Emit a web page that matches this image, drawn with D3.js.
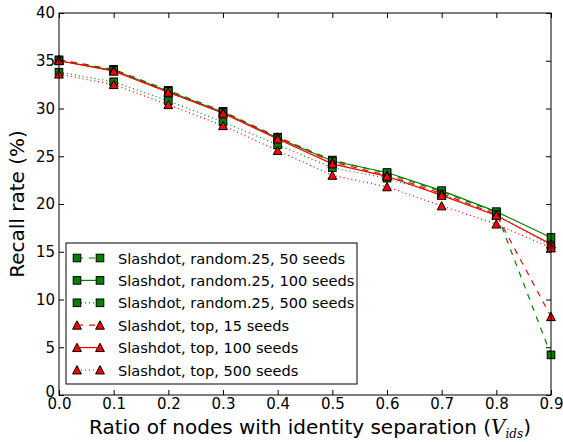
<!DOCTYPE html>
<html>
<head>
<meta charset="utf-8">
<script src="https://cdn.jsdelivr.net/npm/d3@7"></script>
<style>
  html, body { margin: 0; padding: 0; background: #fff; }
  svg text { font-family: "DejaVu Sans", sans-serif; fill: #000; }
</style>
</head>
<body>
<svg id="chart" width="563" height="442"></svg>
<script>
// Ratio of nodes with identity separation
const ratios = [0.0, 0.1, 0.2, 0.3, 0.4, 0.5, 0.6, 0.7, 0.8, 0.9];

// Recall rate (%) per seeding strategy
const random25_50  = [35.1, 34.1, 31.9, 29.7, 27.0, 24.6, 23.2, 21.3, 19.1, 4.2];
const random25_100 = [35.0, 34.0, 31.8, 29.6, 26.9, 24.5, 23.3, 21.4, 19.2, 16.5];
const random25_500 = [33.8, 32.8, 30.8, 28.6, 26.2, 23.8, 22.7, 21.0, 18.9, 15.6];
const top_15       = [35.1, 34.0, 31.7, 29.6, 27.0, 24.4, 23.0, 21.1, 18.9, 8.2];
const top_100      = [35.0, 33.9, 31.7, 29.5, 26.8, 24.2, 22.9, 20.9, 18.8, 15.8];
const top_500      = [33.6, 32.5, 30.4, 28.2, 25.6, 23.0, 21.8, 19.8, 17.9, 15.4];

const seriesLabels = [
  "Slashdot, random.25, 50 seeds",
  "Slashdot, random.25, 100 seeds",
  "Slashdot, random.25, 500 seeds",
  "Slashdot, top, 15 seeds",
  "Slashdot, top, 100 seeds",
  "Slashdot, top, 500 seeds"
];

const xTicks = [0.0, 0.1, 0.2, 0.3, 0.4, 0.5, 0.6, 0.7, 0.8, 0.9];
const yTicks = [0, 5, 10, 15, 20, 25, 30, 35, 40];

const styles = [
  { color: "#008000", dash: "6,6", marker: "square" },
  { color: "#008000", dash: null,  marker: "square" },
  { color: "#008000", dash: "1,3", marker: "square" },
  { color: "#ff0000", dash: "6,6", marker: "triangle" },
  { color: "#ff0000", dash: null,  marker: "triangle" },
  { color: "#ff0000", dash: "1,3", marker: "triangle" }
];
const seriesValues = [random25_50, random25_100, random25_500, top_15, top_100, top_500];

const svg = d3.select("#chart");
const plot = { left: 59, right: 551, top: 13, bottom: 395 };

const x = d3.scaleLinear().domain([0, 0.9]).range([plot.left, plot.right]);
const y = d3.scaleLinear().domain([0, 40]).range([plot.bottom, plot.top]);

// Lines
const line = d3.line().x(d => x(d[0])).y(d => y(d[1]));
const g = svg.append("g");

seriesValues.forEach((vals, i) => {
  const pts = ratios.map((r, j) => [r, vals[j]]);
  g.append("path")
    .attr("d", line(pts))
    .attr("fill", "none")
    .attr("stroke", styles[i].color)
    .attr("stroke-width", 1.2)
    .attr("stroke-dasharray", styles[i].dash);
});

function drawMarker(sel, type, cx, cy) {
  if (type === "square") {
    sel.append("rect")
      .attr("x", cx - 3.8).attr("y", cy - 3.8)
      .attr("width", 7.6).attr("height", 7.6)
      .attr("fill", "#008000").attr("stroke", "#000").attr("stroke-width", 1);
  } else {
    const s = 4.4;
    sel.append("path")
      .attr("d", `M${cx},${cy - s} L${cx + s},${cy + s * 0.9} L${cx - s},${cy + s * 0.9} Z`)
      .attr("fill", "#ff0000").attr("stroke", "#000").attr("stroke-width", 1);
  }
}

// Markers
seriesValues.forEach((vals, i) => {
  ratios.forEach((r, j) => drawMarker(g, styles[i].marker, x(r), y(vals[j])));
});

// Frame
svg.append("rect")
  .attr("x", plot.left).attr("y", plot.top)
  .attr("width", plot.right - plot.left).attr("height", plot.bottom - plot.top)
  .attr("fill", "none").attr("stroke", "#000").attr("stroke-width", 1);

// Axes with inward ticks on all four sides
const tl = 5;
const axB = svg.append("g").attr("transform", `translate(0,${plot.bottom})`)
  .call(d3.axisBottom(x).tickValues(xTicks).tickFormat(d3.format(".1f")).tickSizeInner(-tl).tickSizeOuter(0).tickPadding(3));
const axT = svg.append("g").attr("transform", `translate(0,${plot.top})`)
  .call(d3.axisTop(x).tickValues(xTicks).tickFormat("").tickSizeInner(-tl).tickSizeOuter(0));
const axL = svg.append("g").attr("transform", `translate(${plot.left},0)`)
  .call(d3.axisLeft(y).tickValues(yTicks).tickFormat(d3.format("d")).tickSizeInner(-tl).tickSizeOuter(0).tickPadding(4));
const axR = svg.append("g").attr("transform", `translate(${plot.right},0)`)
  .call(d3.axisRight(y).tickValues(yTicks).tickFormat("").tickSizeInner(-tl).tickSizeOuter(0));

[axB, axT, axL, axR].forEach(a => {
  a.select(".domain").remove();
  a.selectAll("line").attr("stroke", "#000");
  a.selectAll("text").style("font-size", "15px").style("font-family", "DejaVu Sans, sans-serif");
});
// The zero label sits just above the x axis line
axL.selectAll(".tick").filter(d => d === 0).select("text").attr("dy", "0.1em");

// Axis titles
svg.append("text")
  .attr("transform", `translate(24,${(plot.top + plot.bottom) / 2}) rotate(-90)`)
  .attr("text-anchor", "middle")
  .style("font-size", "20px")
  .text("Recall rate (%)");

const xt = svg.append("text")
  .attr("x", (plot.left + plot.right) / 2 + 5)
  .attr("y", 434)
  .attr("text-anchor", "middle")
  .style("font-size", "20px");
xt.append("tspan").text("Ratio of nodes with identity separation (");
xt.append("tspan").style("font-family", "DejaVu Serif, serif").style("font-style", "italic").text("V");
xt.append("tspan").attr("dy", 4).style("font-family", "DejaVu Serif, serif").style("font-style", "italic").style("font-size", "12px").text("ids");
xt.append("tspan").attr("dy", -4).text(")");

// Legend
const lg = svg.append("g");
const lgBox = { x: 66, y: 243, w: 291, h: 141 };
lg.append("rect")
  .attr("x", lgBox.x).attr("y", lgBox.y).attr("width", lgBox.w).attr("height", lgBox.h)
  .attr("fill", "#fff").attr("stroke", "#000").attr("stroke-width", 1);

seriesLabels.forEach((lab, i) => {
  const cy = 258 + i * 22.4;
  const x1 = 77, x2 = 100;
  lg.append("line")
    .attr("x1", x1).attr("x2", x2).attr("y1", cy).attr("y2", cy)
    .attr("stroke", styles[i].color).attr("stroke-width", 1.2)
    .attr("stroke-dasharray", styles[i].dash);
  drawMarker(lg, styles[i].marker, x1, cy);
  drawMarker(lg, styles[i].marker, x2, cy);
  lg.append("text")
    .attr("x", 118).attr("y", cy + 5.5)
    .style("font-size", "14.6px")
    .text(lab);
});
</script>
</body>
</html>
